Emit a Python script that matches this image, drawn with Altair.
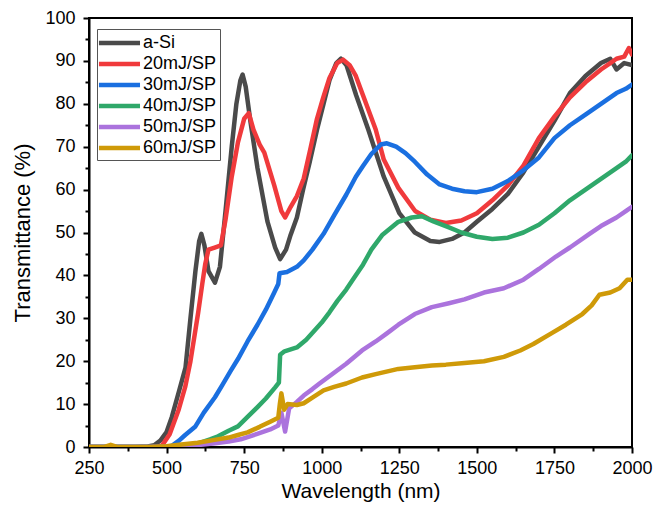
import altair as alt
import pandas as pd

series = ["a-Si", "20mJ/SP", "30mJ/SP", "40mJ/SP", "50mJ/SP", "60mJ/SP"]
colors = ["#4a4a4a", "#f03a3c", "#1a6fe0", "#2fa86a", "#ab73dd", "#cf9a08"]

asi_wl = [250, 300, 350, 400, 440, 460, 480, 500, 517, 540, 561, 577, 593, 605, 612, 622, 635, 656, 672,
          690, 710, 725, 738, 745, 755, 770, 793, 825, 850, 866, 885, 900, 920, 940, 961, 985, 1006, 1025,
          1047, 1062, 1080, 1111, 1150, 1200, 1250, 1300, 1350, 1380, 1420, 1460, 1500, 1550, 1600, 1650,
          1700, 1750, 1800, 1850, 1900, 1930, 1950, 1975, 2000]
asi_t = [0, 0, 0, 0, 0.1, 0.4, 1.5, 3.5, 7, 13, 18.5, 30, 41, 48, 49.7, 47, 41, 38.3, 42,
         55, 70, 80, 85.5, 86.8, 84, 76, 65, 52.6, 46.5, 43.8, 46, 49.5, 53.5, 60, 66.3, 74, 80, 85.5,
         89.5, 90.5, 89, 82, 74, 63, 54.5, 50, 48, 47.8, 48.5, 50, 52.5, 55.5, 59, 64,
         70, 76, 82.5, 86.5, 89.5, 90.5, 88, 89.5, 89]

r20_wl = [250, 300, 350, 400, 450, 470, 485, 510, 539, 560, 577, 602, 615, 625, 635, 655, 675, 690, 710,
          730, 750, 765, 780, 800, 815, 847, 870, 882, 900, 920, 942, 965, 984, 1005, 1025, 1050, 1069,
          1090, 1110, 1133, 1174, 1200, 1247, 1301, 1350, 1400, 1450, 1500, 1550, 1600, 1650, 1700, 1750,
          1800, 1850, 1900, 1930, 1950, 1975, 1990, 2000]
r20_t = [0, 0, 0, 0, 0, 0.1, 0.3, 3, 8.7, 14, 20, 31.4, 38, 42.8, 46, 46.5, 47, 53, 63,
         71, 76.5, 77.8, 74, 70.5, 68.6, 61, 55, 53.5, 56, 58.5, 62.6, 70, 76.3, 81.5, 86, 89.5, 90.3,
         89, 86.5, 82, 74, 67, 60.4, 55, 53, 52.2, 52.8, 54.5, 57.5, 61, 65.6, 72, 77,
         81.5, 85, 88, 89.5, 90.5, 91, 93, 91.5]

b30_wl = [250, 300, 350, 400, 450, 500, 517, 540, 560, 593, 620, 656, 680, 707, 730, 761, 793, 820, 847,
          860, 864, 888, 920, 942, 970, 1006, 1040, 1079, 1110, 1133, 1160, 1190, 1210, 1240, 1270, 1300,
          1340, 1380, 1420, 1460, 1500, 1550, 1600, 1650, 1700, 1750, 1800, 1850, 1900, 1950, 1980, 2000]
b30_t = [0, 0, 0, 0, 0, 0, 0.3, 1.5, 2.8, 4.8, 8, 11.6, 14.5, 17.8, 20.5, 24.6, 28.5, 32, 36,
         38, 40.5, 40.8, 42, 43.5, 46, 49.7, 54, 58.8, 63, 65.5, 68.3, 70.5, 70.8, 70, 68.5, 66.5,
         63.5, 61.2, 60.2, 59.6, 59.4, 60.2, 62, 64.5, 67.5, 72, 75, 77.5, 80, 82.5, 83.5, 84.5]

g40_wl = [250, 300, 350, 400, 450, 500, 560, 600, 640, 666, 700, 730, 761, 793, 820, 850, 862, 866, 880,
          920, 950, 974, 1000, 1025, 1050, 1079, 1105, 1133, 1160, 1196, 1247, 1290, 1323, 1360, 1406,
          1450, 1500, 1550, 1600, 1650, 1700, 1750, 1800, 1850, 1900, 1950, 1980, 2000]
g40_t = [0, 0, 0, 0, 0, 0, 0.2, 0.8, 1.8, 2.5, 3.8, 4.8, 7, 9.3, 11.3, 13.9, 15, 21.5, 22.3,
         23.2, 25, 26.9, 29, 31.4, 34, 36.7, 39.5, 42.5, 46, 49.5, 52.5, 53.5, 53.8, 52.6, 51.3,
         50, 49, 48.5, 48.8, 50, 51.8, 54.5, 57.5, 60, 62.5, 65, 66.5, 68]

p50_wl = [250, 300, 350, 400, 450, 500, 540, 580, 650, 700, 739, 790, 834, 860, 870, 882, 895, 920, 942,
          970, 993, 1030, 1079, 1130, 1174, 1210, 1247, 1300, 1355, 1410, 1460, 1523, 1587, 1650, 1700,
          1755, 1800, 1863, 1900, 1950, 1980, 2000]
p50_t = [0, 0, 0, 0, 0, 0, 0, 0.3, 0.8, 1.3, 1.8, 3, 4.1, 5, 8, 3.6, 9, 10.5, 12,
         13.5, 14.8, 16.8, 19.4, 22.5, 24.6, 26.5, 28.5, 31, 32.6, 33.5, 34.4, 36, 37, 39, 41.5,
         44.4, 46.5, 49.7, 51.5, 53.5, 55, 56]

y60_wl = [250, 300, 320, 340, 400, 450, 500, 540, 600, 650, 700, 730, 761, 800, 834, 860, 865, 870, 879,
          890, 920, 942, 970, 1006, 1040, 1079, 1130, 1174, 1247, 1300, 1355, 1400, 1460, 1523, 1587,
          1640, 1682, 1740, 1787, 1840, 1870, 1895, 1930, 1960, 1985, 2000]
y60_t = [0, 0, 0.5, 0, 0, 0, 0.2, 0.5, 1, 1.6, 2.2, 2.8, 3.4, 4.7, 5.9, 6.8, 10, 12.5, 8.7,
         10, 9.8, 10.2, 11.5, 13.2, 14, 14.8, 16.2, 17, 18.2, 18.6, 19, 19.2, 19.6, 20, 21,
         22.5, 24, 26.5, 28.5, 31, 33, 35.5, 36, 37, 39, 39]

x_ticks = list(range(250, 2001, 125))
y_ticks = list(range(0, 101, 5))

rows = []
for name, wls, ts in zip(series,
                         [asi_wl, r20_wl, b30_wl, g40_wl, p50_wl, y60_wl],
                         [asi_t, r20_t, b30_t, g40_t, p50_t, y60_t]):
    for w, t in zip(wls, ts):
        rows.append({"series": name, "wl": w, "T": t})
df = pd.DataFrame(rows)

FONT = "Liberation Sans"

x_axis = alt.Axis(
    title="Wavelength (nm)", values=x_ticks, format="d",
    labelExpr="datum.value % 250 === 0 ? datum.label : ''",
    tickSize={"condition": {"test": "datum.value % 250 === 0", "value": 6}, "value": 4},
    labelOverlap=False, labelFlush=False, labelPadding=6,
    labelFontSize=18, titleFontSize=21, titlePadding=3,
    labelFont=FONT, titleFont=FONT, labelColor="black", titleColor="black",
    titleFontWeight="normal", domainColor="black", domainWidth=2,
    tickColor="black", tickWidth=2, grid=False,
)
y_axis = alt.Axis(
    title="Transmittance (%)", values=y_ticks, format="d",
    labelExpr="datum.value % 10 === 0 ? datum.label : ''",
    tickSize={"condition": {"test": "datum.value % 10 === 0", "value": 6}, "value": 4},
    labelOverlap=False, labelFlush=False, labelPadding=8,
    labelFontSize=18, titleFontSize=22, titlePadding=10,
    labelFont=FONT, titleFont=FONT, labelColor="black", titleColor="black",
    titleFontWeight="normal", domainColor="black", domainWidth=2,
    tickColor="black", tickWidth=2, grid=False,
)

legend = alt.Legend(
    title=None, orient="none", legendX=8, legendY=11,
    symbolType="M-1.39,0H3.35", symbolSize=300, symbolStrokeWidth=4.5,
    labelOffset=21, labelFontSize=18, labelFont=FONT, labelColor="black",
    strokeColor="#555555", fillColor="white", padding=3, rowPadding=1,
)

chart = alt.Chart(df).mark_line(strokeWidth=4.5, strokeJoin="round", strokeCap="round", clip=True).encode(
    x=alt.X("wl:Q", scale=alt.Scale(domain=[250, 2000], nice=False, zero=False), axis=x_axis),
    y=alt.Y("T:Q", scale=alt.Scale(domain=[0, 100], nice=False), axis=y_axis),
    color=alt.Color("series:N", scale=alt.Scale(domain=series, range=colors), legend=legend),
).properties(
    width=543, height=429,
    autosize=alt.AutoSizeParams(type="none"),
    padding={"left": 81, "top": 10, "right": 21, "bottom": 56},
).configure_view(stroke="black", strokeWidth=2)

chart.save("out.html", embed_options={"renderer": "svg", "actions": False})
